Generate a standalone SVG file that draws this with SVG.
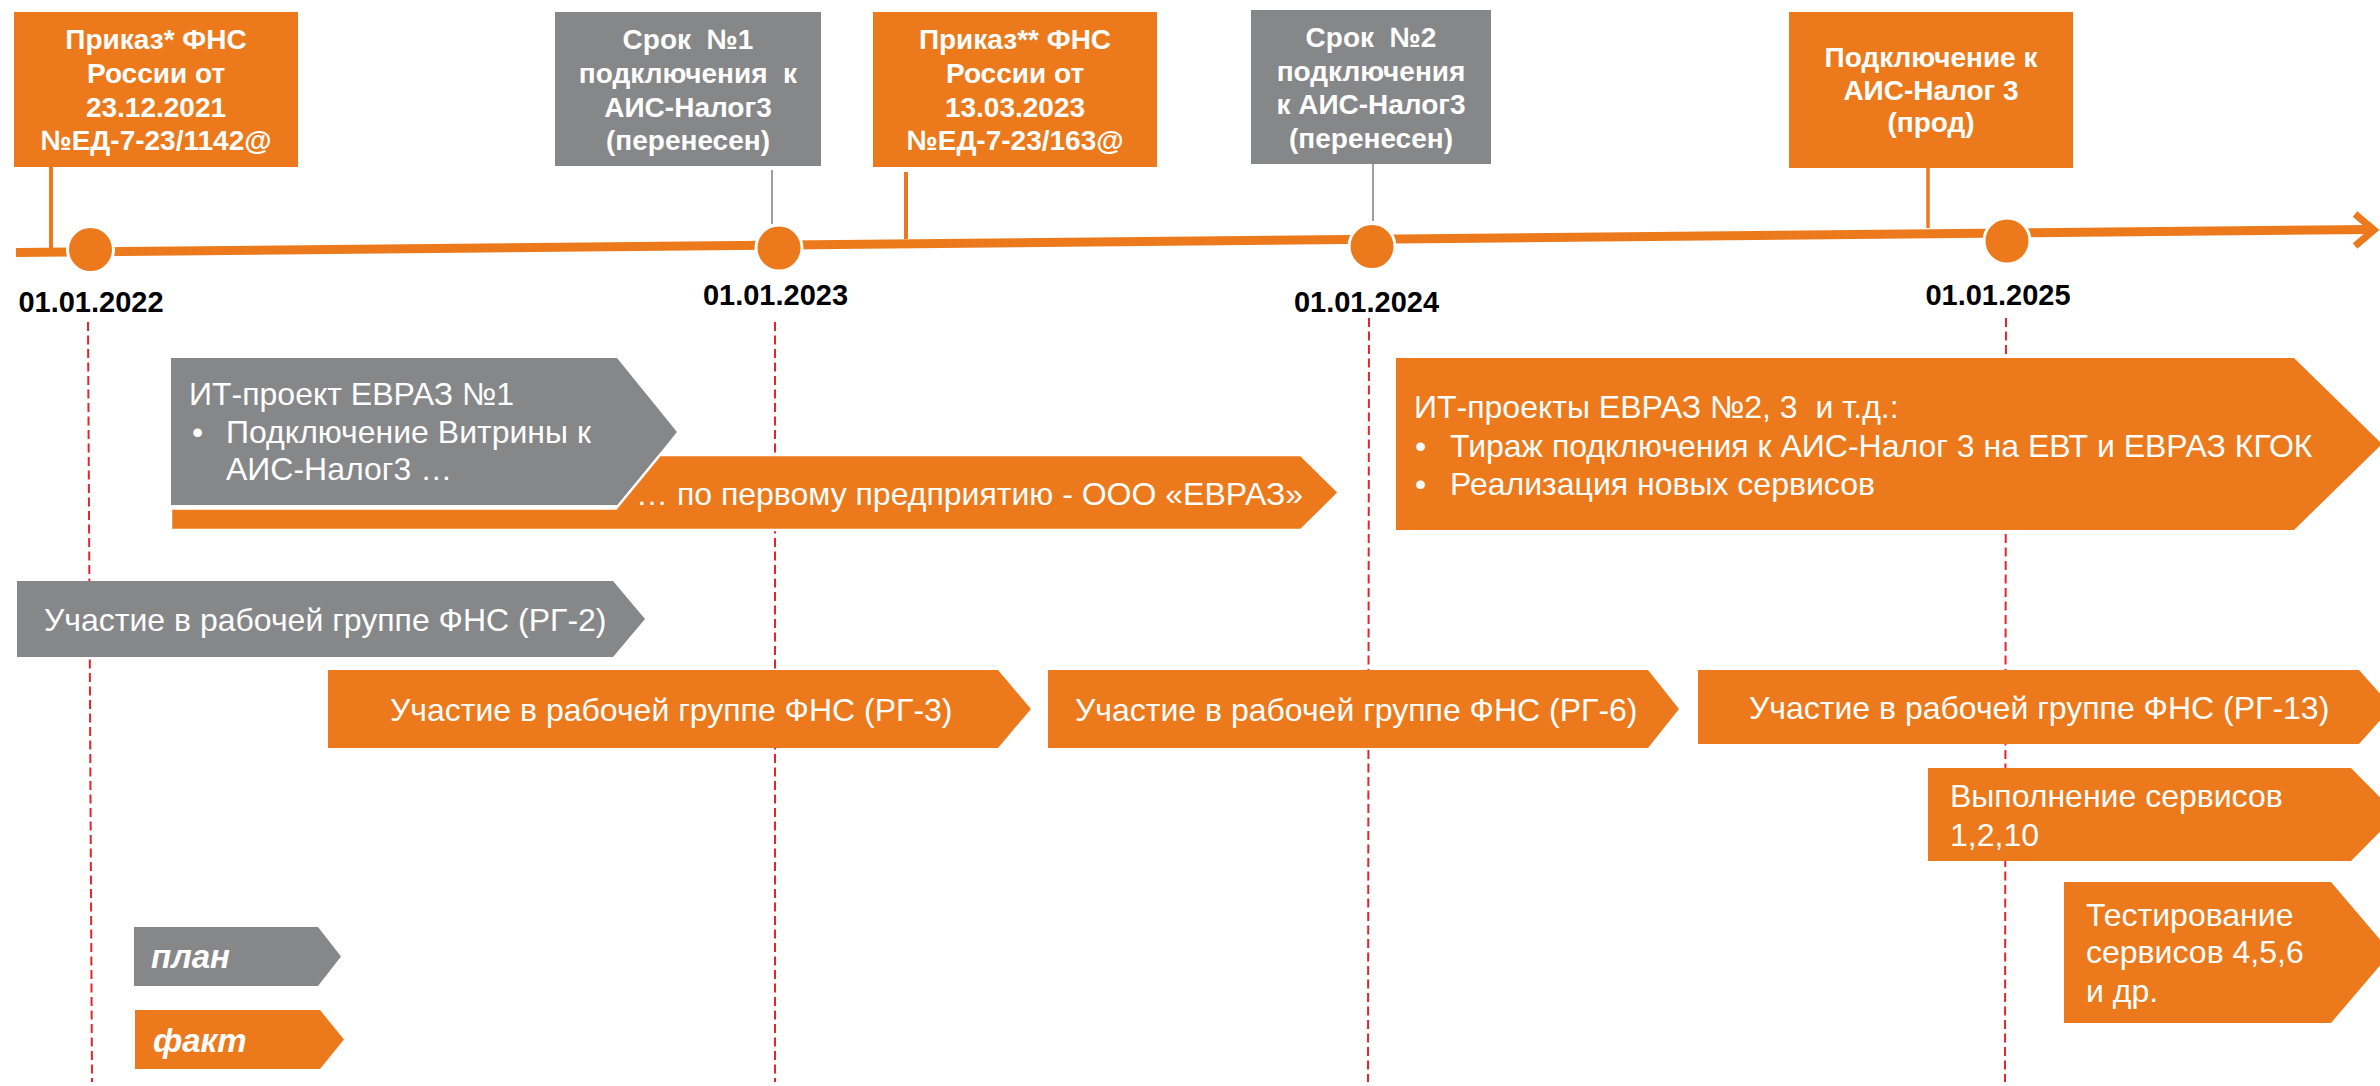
<svg xmlns="http://www.w3.org/2000/svg" width="2380" height="1086" viewBox="0 0 2380 1086">
<defs>
<style>
.or{fill:#EC7A1C}
.gr{fill:#868789}
.hd{font-family:"Liberation Sans",Arial,sans-serif;font-weight:bold;font-size:28px;fill:#fff;text-anchor:middle}
.dt{font-family:"Liberation Sans",Arial,sans-serif;font-weight:bold;font-size:29px;fill:#000;text-anchor:middle}
.tx{font-family:"Liberation Sans",Arial,sans-serif;font-size:32px;fill:#fff}
.lg{font-family:"Liberation Sans",Arial,sans-serif;font-size:33px;font-weight:bold;font-style:italic;fill:#fff}
.dash{stroke:#E3262B;stroke-width:2;stroke-dasharray:9 4.5;fill:none}
.ms{fill:#EC7A1C;stroke:#fff;stroke-width:3}
</style>
</defs>
<rect width="2380" height="1086" fill="#fff"/>

<g id="gridlines">
<line class="dash" x1="88" y1="322" x2="92" y2="1082"/>
<line class="dash" x1="775" y1="322" x2="775" y2="1082"/>
<line class="dash" x1="1369" y1="318" x2="1368" y2="1082"/>
<line class="dash" x1="2006" y1="318" x2="2005" y2="1082"/>
</g>

<g id="connectors">
<line x1="16" y1="252.5" x2="2370" y2="229.5" stroke="#EC7A1C" stroke-width="9"/>
<path d="M2355,214 L2374,230 L2355,246" fill="none" stroke="#EC7A1C" stroke-width="7"/>
<line x1="51" y1="167" x2="51" y2="250" stroke="#EC7A1C" stroke-width="4"/>
<line x1="772" y1="170" x2="772" y2="224" stroke="#7F7F7F" stroke-width="1.5"/>
<line x1="906" y1="172" x2="906" y2="239" stroke="#EC7A1C" stroke-width="4"/>
<line x1="1373" y1="164" x2="1373" y2="221" stroke="#7F7F7F" stroke-width="1.5"/>
<line x1="1928" y1="168" x2="1928" y2="228" stroke="#EC7A1C" stroke-width="3.5"/>
</g>

<g id="milestones">
<circle class="ms" cx="90.5" cy="249.5" r="23"/>
<circle class="ms" cx="779" cy="248" r="23"/>
<circle class="ms" cx="1372" cy="246.5" r="23"/>
<circle class="ms" cx="2007" cy="241" r="23"/>
</g>

<g id="dates">
<text class="dt" x="91" y="312">01.01.2022</text>
<text class="dt" x="775.5" y="305">01.01.2023</text>
<text class="dt" x="1366.5" y="312">01.01.2024</text>
<text class="dt" x="1998" y="305">01.01.2025</text>
</g>

<g id="order1">
<rect class="or" x="14" y="12" width="284" height="155"/>
<text class="hd" x="156" y="49">Приказ* ФНС</text>
<text class="hd" x="156" y="83">России от</text>
<text class="hd" x="156" y="117">23.12.2021</text>
<text class="hd" x="156" y="150">№ЕД-7-23/1142@</text>
</g>

<g id="deadline1">
<rect class="gr" x="555" y="12" width="266" height="154"/>
<text class="hd" x="688" y="49" xml:space="preserve">Срок  №1</text>
<text class="hd" x="688" y="83" xml:space="preserve">подключения  к</text>
<text class="hd" x="688" y="117">АИС-Налог3</text>
<text class="hd" x="688" y="150">(перенесен)</text>
</g>

<g id="order2">
<rect class="or" x="873" y="12" width="284" height="155"/>
<text class="hd" x="1015" y="49">Приказ** ФНС</text>
<text class="hd" x="1015" y="83">России от</text>
<text class="hd" x="1015" y="117">13.03.2023</text>
<text class="hd" x="1015" y="150">№ЕД-7-23/163@</text>
</g>

<g id="deadline2">
<rect class="gr" x="1251" y="10" width="240" height="154"/>
<text class="hd" x="1371" y="47" xml:space="preserve">Срок  №2</text>
<text class="hd" x="1371" y="81">подключения</text>
<text class="hd" x="1371" y="114">к АИС-Налог3</text>
<text class="hd" x="1371" y="148">(перенесен)</text>
</g>

<g id="connect-prod">
<rect class="or" x="1789" y="12" width="284" height="156"/>
<text class="hd" x="1931" y="67">Подключение к</text>
<text class="hd" x="1931" y="100">АИС-Налог 3</text>
<text class="hd" x="1931" y="132">(прод)</text>
</g>

<g id="it-project-1">
<polygon class="gr" points="171,358 617,358 677,432 618,505 171,505"/>
<text class="tx" x="189" y="405">ИТ-проект ЕВРАЗ №1</text>
<text class="tx" x="192" y="443">•</text>
<text class="tx" x="226" y="443">Подключение Витрины к</text>
<text class="tx" x="226" y="480">АИС-Налог3 …</text>
</g>

<g id="it-project-1-fact">
<polygon class="or" points="171,530 171,508.5 616,508.5 660,455 1301,455 1339,492.5 1301,530" stroke="#fff" stroke-width="2.5"/>
<text class="tx" x="636" y="505">… по первому предприятию - ООО «ЕВРАЗ»</text>
</g>

<g id="it-projects-2">
<polygon class="or" points="1396,358 2294,358 2382,444 2294,530 1396,530"/>
<text class="tx" x="1414" y="418" xml:space="preserve">ИТ-проекты ЕВРАЗ №2, 3  и т.д.:</text>
<text class="tx" x="1415" y="457">•</text>
<text class="tx" x="1450" y="457">Тираж подключения к АИС-Налог 3 на ЕВТ и ЕВРАЗ КГОК</text>
<text class="tx" x="1415" y="495">•</text>
<text class="tx" x="1450" y="495">Реализация новых сервисов</text>
</g>

<g id="rg2">
<polygon class="gr" points="17,581 613,581 645,619 613,657 17,657"/>
<text class="tx" x="44" y="631">Участие в рабочей группе ФНС (РГ-2)</text>
</g>

<g id="rg3">
<polygon class="or" points="328,670 998,670 1031,709 998,748 328,748"/>
<text class="tx" x="390" y="721">Участие в рабочей группе ФНС (РГ-3)</text>
</g>

<g id="rg6">
<polygon class="or" points="1048,670 1648,670 1679,709 1648,748 1048,748"/>
<text class="tx" x="1075" y="721">Участие в рабочей группе ФНС (РГ-6)</text>
</g>

<g id="rg13">
<polygon class="or" points="1698,670 2359,670 2392,707 2359,744 1698,744"/>
<text class="tx" x="1749" y="719">Участие в рабочей группе ФНС (РГ-13)</text>
</g>

<g id="services-done">
<polygon class="or" points="1928,768 2351,768 2397,814.5 2351,861 1928,861"/>
<text class="tx" x="1950" y="807">Выполнение сервисов</text>
<text class="tx" x="1950" y="846">1,2,10</text>
</g>

<g id="services-test">
<polygon class="or" points="2064,882 2331,882 2391,952.5 2331,1023 2064,1023"/>
<text class="tx" x="2086" y="926">Тестирование</text>
<text class="tx" x="2086" y="963">сервисов 4,5,6</text>
<text class="tx" x="2086" y="1002">и др.</text>
</g>

<g id="legend-plan">
<polygon class="gr" points="134,927 318,927 341,956.5 318,986 134,986"/>
<text class="lg" x="151" y="968">план</text>
</g>

<g id="legend-fact">
<polygon class="or" points="135,1010 320,1010 344,1039.5 320,1069 135,1069"/>
<text class="lg" x="153" y="1052">факт</text>
</g>
</svg>
